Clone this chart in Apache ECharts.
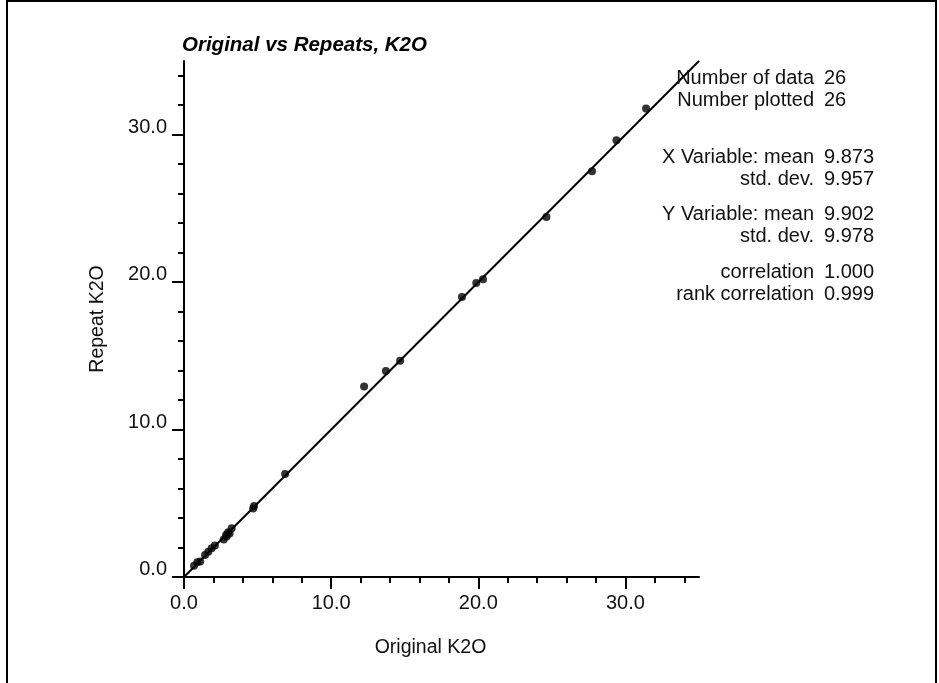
<!DOCTYPE html>
<html>
<head>
<meta charset="utf-8">
<script src="https://cdn.jsdelivr.net/npm/echarts@6/dist/echarts.min.js"></script>
<style>
html,body{margin:0;padding:0;background:#fff;}
#chart{width:939px;height:683px;}
</style>
</head>
<body>
<div id="chart"></div>
<script>
// ---- data ----
var originalK2O = [0.68, 0.90, 1.10, 1.43, 1.65, 1.88, 2.10, 2.70, 2.86, 2.90, 3.00, 3.10, 3.24, 4.70, 4.76, 6.87,
                   12.24, 13.72, 14.69, 18.89, 19.86, 20.32, 24.63, 27.73, 29.39, 31.40];
var repeatK2O   = [0.77, 1.00, 1.05, 1.49, 1.72, 1.95, 2.13, 2.55, 2.85, 2.75, 3.03, 2.95, 3.30, 4.65, 4.82, 6.99,
                   12.92, 13.97, 14.66, 19.00, 19.94, 20.20, 24.42, 27.52, 29.62, 31.77];
var identityLine = [[0, 0], [35, 35]];
var majorTicks = [0, 10, 20, 30];
var minorTicks = [2, 4, 6, 8, 12, 14, 16, 18, 22, 24, 26, 28, 32, 34];
var statLabels = ['Number of data', 'Number plotted', 'X Variable: mean', 'std. dev.', 'Y Variable: mean', 'std. dev.', 'correlation', 'rank correlation'];
var statValues = ['26', '26', '9.873', '9.957', '9.902', '9.978', '1.000', '0.999'];
var statRowsY = [78, 100, 157, 179, 214, 236, 272, 294];

var FONT = '"Liberation Sans", Arial, Helvetica, sans-serif';
var points = originalK2O.map(function (x, i) { return [x, repeatK2O[i]]; });

function majorAxis(isX) {
  return {
    type: 'value', min: 0, max: 35,
    position: isX ? 'bottom' : 'left',
    name: isX ? 'Original K2O' : 'Repeat K2O',
    nameLocation: 'middle',
    nameGap: isX ? 61 : 76,
    nameTextStyle: isX ? { fontFamily: FONT, fontSize: 19.5, color: '#111', padding: [0, 22, 0, 0] }
                       : { fontFamily: FONT, fontSize: 19.5, color: '#111' },
    axisLine: { show: true, onZero: false, lineStyle: { color: '#000', width: 2 } },
    axisTick: { show: true, customValues: majorTicks, length: 12, lineStyle: { color: '#000', width: 2 } },
    axisLabel: isX ? {
      customValues: majorTicks, margin: 16, fontFamily: FONT, fontSize: 20, color: '#111',
      formatter: function (v) { return Number(v).toFixed(1); }
    } : {
      customValues: majorTicks, margin: 17, fontFamily: FONT, fontSize: 20, color: '#111',
      verticalAlign: 'bottom', lineHeight: 15,
      formatter: function (v) { return Number(v).toFixed(1); }
    },
    splitLine: { show: false },
    minorTick: { show: false }
  };
}
function minorAxis(isX) {
  return {
    type: 'value', min: 0, max: 35,
    position: isX ? 'bottom' : 'left',
    axisLine: { show: false, onZero: false },
    axisTick: { show: true, customValues: minorTicks, length: 6, lineStyle: { color: '#000', width: 2 } },
    axisLabel: { show: false },
    splitLine: { show: false }
  };
}

var chart = echarts.init(document.getElementById('chart'), null, { renderer: 'canvas' });
var graphics = [
  { type: 'rect', shape: { x: 7, y: 1, width: 929, height: 720 }, style: { fill: 'none', stroke: '#000', lineWidth: 2 }, z: 100 }
];
statLabels.forEach(function (t, i) {
  graphics.push({ type: 'text', x: 814, y: statRowsY[i], style: { text: t, font: '20px ' + FONT, fill: '#111', align: 'right', verticalAlign: 'middle' }, z: 100 });
  graphics.push({ type: 'text', x: 824, y: statRowsY[i], style: { text: statValues[i], font: '20px ' + FONT, fill: '#111', align: 'left', verticalAlign: 'middle' }, z: 100 });
});

chart.setOption({
  animation: false,
  backgroundColor: '#fff',
  title: {
    text: 'Original vs Repeats, K2O', left: 182, top: 35, padding: 0,
    textStyle: { fontFamily: FONT, fontSize: 20.5, fontWeight: 'bold', fontStyle: 'italic', color: '#000' }
  },
  grid: { left: 184, right: 240, top: 61, bottom: 106, containLabel: false },
  xAxis: [majorAxis(true), minorAxis(true)],
  yAxis: [majorAxis(false), minorAxis(false)],
  series: [
    { type: 'line', data: identityLine, xAxisIndex: 0, yAxisIndex: 0, symbol: 'none', lineStyle: { color: '#000', width: 2 }, z: 2 },
    { type: 'scatter', data: points, xAxisIndex: 0, yAxisIndex: 0, symbol: 'circle', symbolSize: 8, itemStyle: { color: '#000' }, z: 3 }
  ],
  graphic: graphics
});
</script>
</body>
</html>
